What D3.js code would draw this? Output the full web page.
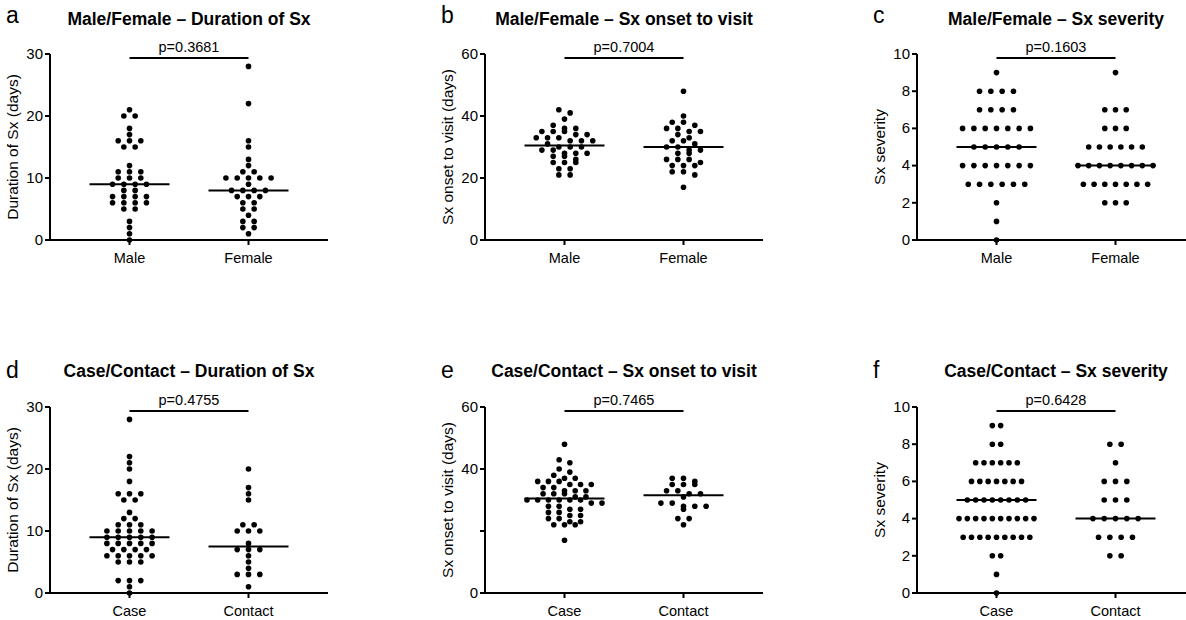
<!DOCTYPE html>
<html>
<head>
<meta charset="utf-8">
<script src="https://cdn.jsdelivr.net/npm/d3@7"></script>
<style>
  body { margin: 0; background: #fff; }
  svg text { font-family: Arial, "Liberation Sans", Helvetica, sans-serif; fill: #000; }
  .axis path, .axis line { stroke: #000; stroke-width: 2; }
</style>
</head>
<body>
<script>
// ---- data ----
var sexGroups = ["Male", "Female"];
var exposureGroups = ["Case", "Contact"];

var durMale = [21,20,20,18,17,16,16,16,15,15,12,11,11,11,10,10,10,9,9,9,9,8,8,7,7,7,7,6,6,6,6,5,5,3,2,1,0];
var durFemale = [28,22,16,15,13,12,11,11,10,10,10,10,10,9,8,8,8,8,7,7,7,6,6,5,5,4,3,3,2,2,1];
var durCase = [28,22,21,20,18,16,16,16,15,15,13,12,12,11,11,11,10,10,10,10,10,9,9,9,9,9,8,8,8,8,8,7,7,7,7,6,6,6,6,6,5,5,5,2,2,2,1,0];
var durContact = [20,17,16,15,11,11,10,10,10,8,7,7,7,6,5,4,3,3,3,1];

var onsetMale = [42,41,39,37,36,36,35,35,35,34,34,33,33,33,32,32,32,31,30,30,30,29,29,28,28,28,27,27,26,25,25,25,23,23,21,21];
var onsetFemale = [48,40,38,38,37,36,36,35,35,34,33,32,32,31,30,30,29,29,28,28,26,26,26,25,24,24,24,22,22,21,17];
var onsetCase = [48,43,42,40,39,38,37,37,36,36,36,35,35,35,34,34,33,33,33,32,32,32,31,31,30,30,30,30,30,30,29,29,28,28,27,27,26,26,25,25,24,24,23,23,22,22,22,17];
var onsetContact = [37,37,36,35,35,35,33,33,32,32,31,29,29,28,28,28,27,24,24,22];

var sevMale = [9,8,8,8,8,7,7,7,7,6,6,6,6,6,6,6,5,5,5,5,5,4,4,4,4,4,4,4,3,3,3,3,3,3,2,1,0];
var sevFemale = [9,7,7,7,6,6,6,5,5,5,5,5,5,4,4,4,4,4,4,4,4,3,3,3,3,3,3,3,2,2,2];
var sevCase = [9,9,8,8,7,7,7,7,7,7,6,6,6,6,6,6,6,5,5,5,5,5,5,5,5,4,4,4,4,4,4,4,4,4,4,3,3,3,3,3,3,3,3,3,2,2,1,0];
var sevContact = [8,8,7,6,6,6,5,5,5,4,4,4,4,4,3,3,3,3,2,2];

var durTicks = [0, 10, 20, 30];
var onsetTicks = [0, 20, 40, 60];
var onsetTickLabels = ["0", "20", "40", "60"];
var onsetTickLabelsCC = ["0", "", "40", "60"];
var sevTicks = [0, 2, 4, 6, 8, 10];

var letters = ["a", "b", "c", "d", "e", "f"];
var titles = ["Male/Female \u2013 Duration of Sx", "Male/Female \u2013 Sx onset to visit", "Male/Female \u2013 Sx severity",
              "Case/Contact \u2013 Duration of Sx", "Case/Contact \u2013 Sx onset to visit", "Case/Contact \u2013 Sx severity"];
var yTitles = ["Duration of Sx (days)", "Sx onset to visit (days)", "Sx severity"];
var pValues = ["p=0.3681", "p=0.7004", "p=0.1603", "p=0.4755", "p=0.7465", "p=0.6428"];

var panels = [
  { groups: sexGroups, series: [durMale, durFemale], ticks: durTicks, labels: durTicks.map(String), yTitle: yTitles[0] },
  { groups: sexGroups, series: [onsetMale, onsetFemale], ticks: onsetTicks, labels: onsetTickLabels, yTitle: yTitles[1] },
  { groups: sexGroups, series: [sevMale, sevFemale], ticks: sevTicks, labels: sevTicks.map(String), yTitle: yTitles[2] },
  { groups: exposureGroups, series: [durCase, durContact], ticks: durTicks, labels: durTicks.map(String), yTitle: yTitles[0] },
  { groups: exposureGroups, series: [onsetCase, onsetContact], ticks: onsetTicks, labels: onsetTickLabelsCC, yTitle: yTitles[1] },
  { groups: exposureGroups, series: [sevCase, sevContact], ticks: sevTicks, labels: sevTicks.map(String), yTitle: yTitles[2] }
];

// ---- layout ----
var width = 1186, height = 620;
var plotW = 278, plotH = 186;
var colX = [50, 485, 917], rowY = [54, 407];
var dotR = 2.8, dotGap = 11.3, maxSpan = 75, binPx = 5.5, medianHalf = 40;

var svg = d3.select("body").append("svg")
  .attr("width", width)
  .attr("height", height);

svg.append("rect").attr("width", width).attr("height", height).attr("fill", "#fff");

// group the sorted values into horizontal rows (prism style scatter)
function makeBins(vals, y) {
  var sorted = vals.slice().sort(function(a, b) { return b - a; });
  var bins = [], cur = null;
  sorted.forEach(function(v) {
    if (!cur || y(v) - y(cur[0]) >= binPx) { cur = [v]; bins.push(cur); }
    else cur.push(v);
  });
  return bins;
}

panels.forEach(function(p, i) {
  var g = svg.append("g")
    .attr("transform", "translate(" + colX[i % 3] + "," + rowY[Math.floor(i / 3)] + ")");

  var y = d3.scaleLinear().domain([0, p.ticks[p.ticks.length - 1]]).range([plotH, 0]);
  var x = d3.scalePoint().domain(p.groups).range([0, plotW]).padding(0.668);

  // dots
  p.series.forEach(function(vals, k) {
    var bins = makeBins(vals, y);
    var maxN = d3.max(bins, function(b) { return b.length; });
    var step = maxN > 1 ? Math.min(dotGap, maxSpan / (maxN - 1)) : dotGap;
    var pts = [];
    bins.forEach(function(b) {
      b.forEach(function(v, j) {
        pts.push({ x: x(p.groups[k]) + (j - (b.length - 1) / 2) * step, v: v });
      });
    });
    g.append("g").selectAll("circle")
      .data(pts)
      .enter()
      .append("circle")
      .attr("cx", function(d) { return d.x; })
      .attr("cy", function(d) { return y(d.v); })
      .attr("r", dotR)
      .attr("fill", "#000");

    // median line
    var med = d3.median(vals);
    g.append("line")
      .attr("x1", x(p.groups[k]) - medianHalf)
      .attr("x2", x(p.groups[k]) + medianHalf)
      .attr("y1", y(med))
      .attr("y2", y(med))
      .attr("stroke", "#000")
      .attr("stroke-width", 2);
  });

  // axes
  g.append("g").attr("class", "axis")
    .attr("transform", "translate(0," + plotH + ")")
    .call(d3.axisBottom(x).tickSize(5).tickSizeOuter(0).tickPadding(8).offset(0))
    .call(function(a) { a.selectAll("text").style("font-size", "14.5px"); });

  g.append("g").attr("class", "axis")
    .call(d3.axisLeft(y).tickValues(p.ticks).tickFormat(function(d, j) { return p.labels[j]; })
      .tickSize(5).tickSizeOuter(0).tickPadding(2).offset(0))
    .call(function(a) { a.selectAll("text").style("font-size", "15px"); });

  g.selectAll(".axis text").attr("fill", "#000").attr("font-family", null);

  // significance bar
  g.append("line")
    .attr("x1", x(p.groups[0]))
    .attr("x2", x(p.groups[1]))
    .attr("y1", 4).attr("y2", 4)
    .attr("stroke", "#000")
    .attr("stroke-width", 2);
  g.append("text")
    .attr("x", (x(p.groups[0]) + x(p.groups[1])) / 2)
    .attr("y", -2)
    .attr("text-anchor", "middle")
    .style("font-size", "14.5px")
    .text(pValues[i]);

  // titles
  g.append("text")
    .attr("x", plotW / 2)
    .attr("y", i < 3 ? -29 : -30)
    .attr("text-anchor", "middle")
    .style("font-size", "17.5px")
    .style("font-weight", "bold")
    .text(titles[i]);

  g.append("text")
    .attr("x", -44)
    .attr("y", i < 3 ? -31 : -29)
    .style("font-size", "23px")
    .text(letters[i]);

  g.append("text")
    .attr("transform", "translate(-32," + (plotH / 2) + ") rotate(-90)")
    .attr("text-anchor", "middle")
    .style("font-size", "15.5px")
    .text(p.yTitle);
});
</script>
</body>
</html>
